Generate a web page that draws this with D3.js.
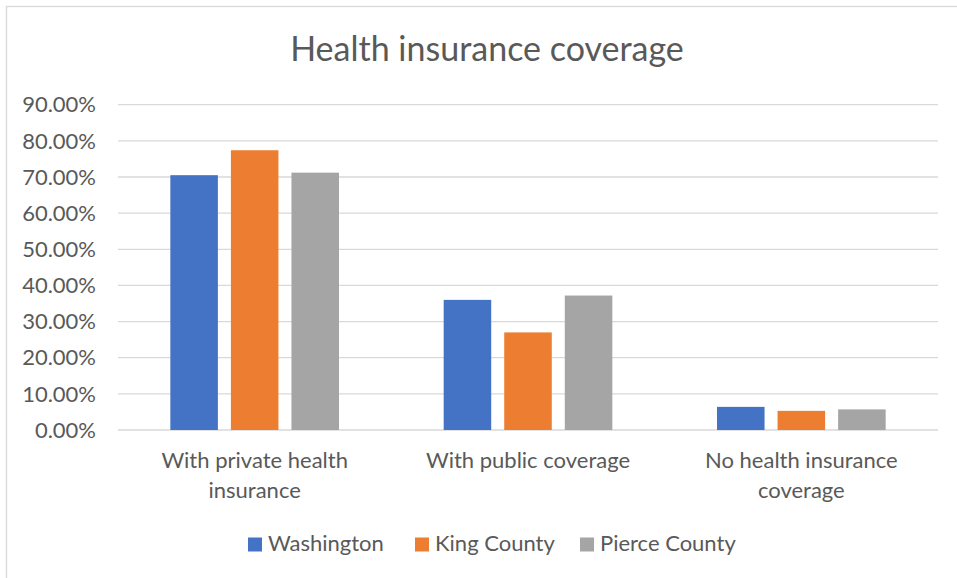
<!DOCTYPE html>
<meta charset="utf-8">
<style>
body { margin: 0; background: #fff; }
text { font-family: Lato, "Noto Sans", sans-serif; fill: #595959; }
.grid line { stroke: #d9d9d9; stroke-width: 1.3px; }
.title { font-size: 34px; }
.tick-label { font-size: 22px; }
.cat-label { font-size: 22px; }
.legend text { font-size: 22px; }
</style>
<svg width="957" height="578"></svg>
<script src="https://d3js.org/d3.v7.min.js"></script>
<script>

var categories = [["With private health", "insurance"], ["With public coverage"], ["No health insurance", "coverage"]];
var seriesNames = ["Washington", "King County", "Pierce County"];
var washington = [0.705, 0.360, 0.064];
var kingCounty = [0.774, 0.270, 0.053];
var pierceCounty = [0.712, 0.372, 0.057];
var yTicks = [0, 0.1, 0.2, 0.3, 0.4, 0.5, 0.6, 0.7, 0.8, 0.9];
var colors = ["#4472c4", "#ed7d31", "#a5a5a5"];

var series = [washington, kingCounty, pierceCounty];

var svg = d3.select("svg"),
    margin = {top: 104.7, right: 19, bottom: 148, left: 118},
    width = +svg.attr("width") - margin.left - margin.right,
    height = +svg.attr("height") - margin.top - margin.bottom;

// chart border (only top/left edges show in the picture)
svg.append("rect")
    .attr("x", 6.5).attr("y", 6.5)
    .attr("width", 1000).attr("height", 1000)
    .attr("fill", "none")
    .attr("stroke", "#d9d9d9")
    .attr("stroke-width", 1.3);

svg.append("text")
    .attr("class", "title")
    .attr("x", 487)
    .attr("y", 61)
    .attr("text-anchor", "middle")
    .text("Health insurance coverage");

var g = svg.append("g").attr("transform", "translate(" + margin.left + "," + margin.top + ")");

var x0 = d3.scaleBand()
    .domain(d3.range(categories.length))
    .range([0, width])
    .paddingInner(0.383)
    .paddingOuter(0.1915);

var x1 = d3.scaleBand()
    .domain(d3.range(seriesNames.length))
    .range([0, x0.bandwidth()])
    .paddingInner(0.215);

var y = d3.scaleLinear()
    .domain([0, 0.9])
    .range([height, 0]);

g.append("g")
    .attr("class", "grid")
  .selectAll("line")
  .data(yTicks)
  .enter().append("line")
    .attr("x1", 0)
    .attr("x2", width)
    .attr("y1", function(d) { return y(d); })
    .attr("y2", function(d) { return y(d); });

g.append("g")
  .selectAll("text")
  .data(yTicks)
  .enter().append("text")
    .attr("class", "tick-label")
    .attr("x", -22)
    .attr("y", function(d) { return y(d); })
    .attr("dy", "0.35em")
    .attr("text-anchor", "end")
    .text(function(d) { return d3.format(".2%")(d); });

var group = g.selectAll(".cat")
  .data(categories)
  .enter().append("g")
    .attr("class", "cat")
    .attr("transform", function(d, i) { return "translate(" + x0(i) + ",0)"; });

group.selectAll("rect")
  .data(function(d, i) { return series.map(function(s, j) { return {s: j, v: s[i]}; }); })
  .enter().append("rect")
    .attr("x", function(d) { return x1(d.s); })
    .attr("width", x1.bandwidth())
    .attr("y", function(d) { return y(d.v); })
    .attr("height", function(d) { return height - y(d.v); })
    .attr("fill", function(d) { return colors[d.s]; });

group.append("text")
    .attr("class", "cat-label")
    .attr("text-anchor", "middle")
    .attr("transform", "translate(" + x0.bandwidth() / 2 + "," + (height + 38) + ")")
  .selectAll("tspan")
  .data(function(d) { return d; })
  .enter().append("tspan")
    .attr("x", 0)
    .attr("y", function(d, i) { return i * 30; })
    .text(function(d) { return d; });

// legend
var legendX = [248, 415, 580];
var legend = svg.append("g").attr("class", "legend")
  .selectAll("g")
  .data(seriesNames)
  .enter().append("g")
    .attr("transform", function(d, i) { return "translate(" + legendX[i] + ",537.5)"; });

legend.append("rect")
    .attr("width", 14)
    .attr("height", 14)
    .attr("fill", function(d, i) { return colors[i]; });

legend.append("text")
    .attr("x", 20)
    .attr("y", 13)
    .text(function(d) { return d; });

</script>
